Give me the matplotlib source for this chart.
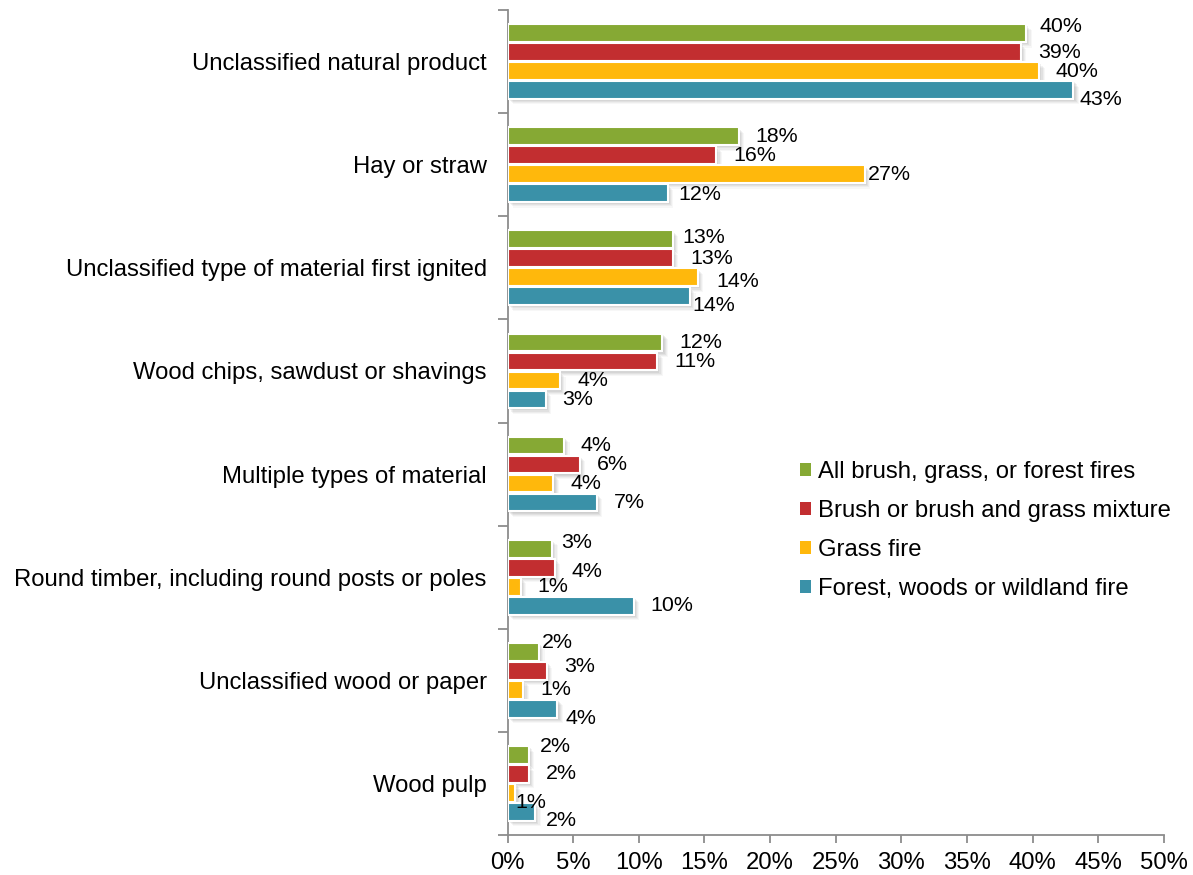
import matplotlib
matplotlib.use("Agg")
import matplotlib.pyplot as plt
import matplotlib.patheffects as pe
import numpy as np

categories = [
    "Unclassified natural product",
    "Hay or straw",
    "Unclassified type of material first ignited",
    "Wood chips, sawdust or shavings",
    "Multiple types of material",
    "Round timber, including round posts or poles",
    "Unclassified wood or paper",
    "Wood pulp",
]
series_names = [
    "All brush, grass, or forest fires",
    "Brush or brush and grass mixture",
    "Grass fire",
    "Forest, woods or wildland fire",
]
all_fires = [39.5, 17.6, 12.6, 11.8, 4.3, 3.4, 2.4, 1.6]
brush = [39.1, 15.9, 12.6, 11.4, 5.5, 3.6, 3.0, 1.6]
grass = [40.5, 27.2, 14.5, 4.0, 3.5, 1.0, 1.2, 0.6]
forest = [43.1, 12.2, 13.9, 2.9, 6.8, 9.6, 3.8, 2.1]
series_values = [all_fires, brush, grass, forest]
colors = ["#86A934", "#C22E30", "#FFB80C", "#3A91A8"]
x_ticks = [0, 5, 10, 15, 20, 25, 30, 35, 40, 45, 50]

# Label placement: default gap right of the bar end, plus hand-placed nudges
# (pixels, +y downwards) keyed by (category index, series index).
LABEL_GAP_PX = 17
LABEL_NUDGE_PX = {
    (0, 0): (13, -7), (0, 2): (16, 0), (0, 3): (6, 9),
    (1, 2): (3, 0), (1, 3): (11, 1),
    (2, 0): (9, -2), (2, 2): (18, 4), (2, 3): (2, 9),
    (5, 0): (9, -6), (5, 1): (17, 4),
    (6, 0): (3, -9), (6, 1): (17, -4), (6, 3): (8, 10),
    (7, 0): (11, -8), (7, 2): (0, 10), (7, 3): (11, 9),
}

plt.rcParams["font.family"] = ["Liberation Sans", "DejaVu Sans"]
FS = 17.2
FS_LABEL = 15.4
PX2PT = 72 / 100

fig = plt.figure(figsize=(11.93, 8.75), dpi=100)
ax = fig.add_axes([507.5 / 1193, 1 - 835 / 875, 656.5 / 1193, 825 / 875])

n = len(categories)
y = np.arange(n)
bar_h = 0.172
step = 0.184

# soft drop shadow built from a few translucent offset layers
shadow = [pe.SimplePatchShadow(offset=(o, -o), shadow_rgbFace="#808080", alpha=a)
          for o, a in [(4.0, 0.06), (3.2, 0.08), (2.4, 0.10), (1.6, 0.12), (0.8, 0.10)]]
shadow.append(pe.Normal())

handles = []
for k, (vals, col, name) in enumerate(zip(series_values, colors, series_names)):
    pos = y + (k - 1.5) * step
    bars = ax.barh(pos, vals, height=bar_h, color=col, edgecolor="white",
                   linewidth=1.5, label=name, zorder=3)
    for b in bars:
        b.set_path_effects(shadow)
    handles.append(bars)
    for i, (p, v) in enumerate(zip(pos, vals)):
        dx, dy = LABEL_NUDGE_PX.get((i, k), (LABEL_GAP_PX, 0))
        ax.annotate(f"{round(v):.0f}%", xy=(v, p), xytext=(dx * PX2PT, -dy * PX2PT),
                    textcoords="offset points", va="center", ha="left",
                    fontsize=FS_LABEL, color="black", zorder=4)

ax.set_xlim(0, 50)
ax.set_ylim(n - 0.5, -0.5)
ax.set_xticks(x_ticks)
ax.set_xticklabels([f"{t}%" for t in x_ticks], fontsize=FS)
ax.set_yticks(y)
ax.set_yticklabels(categories, fontsize=FS)
ax.set_yticks(np.arange(-0.5, n, 1.0), minor=True)

for s in ["top", "right"]:
    ax.spines[s].set_visible(False)
for s in ["left", "bottom"]:
    ax.spines[s].set_color("#8c8c8c")
    ax.spines[s].set_linewidth(1.3)

ax.tick_params(axis="y", which="major", length=0, pad=15)
ax.tick_params(axis="y", which="minor", length=7, width=1.3, color="#8c8c8c", direction="out")
ax.tick_params(axis="x", which="major", length=6, width=1.3, color="#8c8c8c", direction="out", pad=6)

leg = fig.legend(handles=handles, labels=series_names, loc="upper left",
                 bbox_to_anchor=(788 / 1193, 1 - 449 / 875), frameon=False,
                 fontsize=FS, handlelength=0.45, handleheight=0.45,
                 handletextpad=0.3, labelspacing=0.71, borderpad=0)
for h in leg.legend_handles:
    h.set_path_effects([])
    h.set_edgecolor("none")

fig.savefig("out.png", dpi=100)
